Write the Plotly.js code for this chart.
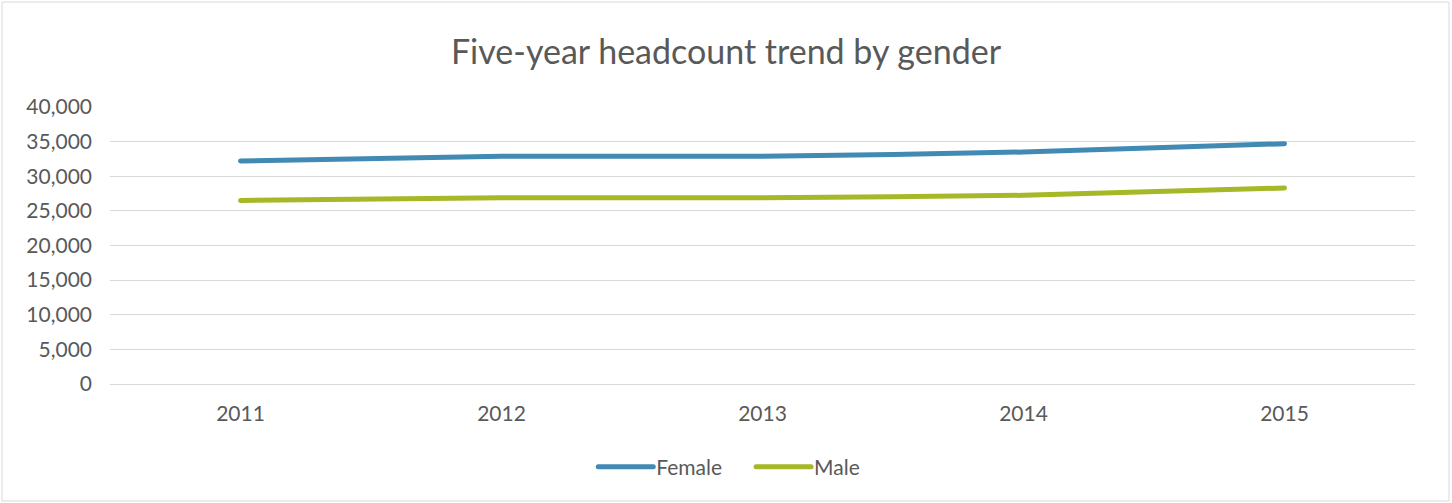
<!DOCTYPE html>
<html>
<head>
<meta charset="utf-8">
<script src="https://cdn.plot.ly/plotly-3.0.1.min.js"></script>
<style>
html,body{margin:0;padding:0;background:#fff;}
#chart{width:1452px;height:503px;}
</style>
</head>
<body>
<div id="chart"></div>
<script>
const years = ['2011', '2012', '2013', '2014', '2015'];
const female = [32200, 32900, 32900, 33500, 34700];
const male = [26500, 26900, 26900, 27250, 28300];
const yTicks = [0, 5000, 10000, 15000, 20000, 25000, 30000, 35000, 40000];

const W = 1452, H = 503;
const m = {l: 110, r: 37, t: 107, b: 119};
const pw = W - m.l - m.r, ph = H - m.t - m.b;

const font = "Lato, 'Open Sans', sans-serif";
const tickSize = 21;
const traces = [
  {x: years, y: female, name: 'Female', type: 'scatter', mode: 'lines',
   line: {color: '#418AB3', width: 5, shape: 'spline', smoothing: 0.6}},
  {x: years, y: male, name: 'Male', type: 'scatter', mode: 'lines',
   line: {color: '#A6B727', width: 5, shape: 'spline', smoothing: 0.6}}
];

const layout = {
  width: W, height: H,
  margin: m,
  paper_bgcolor: '#ffffff', plot_bgcolor: '#ffffff',
  font: {family: font, size: tickSize, color: '#595959'},
  title: {text: 'Five-year headcount trend by gender', x: 0.5, xref: 'container', xanchor: 'center',
          y: 1 - 52 / H, yref: 'container', yanchor: 'middle',
          font: {family: font, size: 34, weight: 400, color: '#595959'}},
  showlegend: true,
  legend: {orientation: 'h', x: 0.5, xanchor: 'center', xref: 'container', y: 1 - 467 / H, yref: 'container', yanchor: 'middle',
           font: {family: font, size: tickSize, color: '#595959'}, itemwidth: 30, tracegroupgap: 0},
  xaxis: {type: 'category', range: [-0.5, 4.5], showgrid: false, showline: true, linecolor: '#d9d9d9', linewidth: 1,
          ticks: '', tickfont: {family: font, size: tickSize, color: '#595959'}, ticklabelstandoff: 11, zeroline: false, fixedrange: true},
  yaxis: {range: [0, 40000], tickvals: yTicks, tickformat: ',d', showgrid: true, gridcolor: '#d9d9d9', gridwidth: 1,
          zeroline: false, showline: false, ticks: '', ticklabelstandoff: 17,
          tickfont: {family: font, size: tickSize, color: '#595959'}, fixedrange: true},
  shapes: [{type: 'rect', xref: 'paper', yref: 'paper',
            x0: (2 - m.l) / pw, x1: (W - 3 - m.l) / pw,
            y0: -(m.b - 2) / ph, y1: 1 + (m.t - 2) / ph,
            line: {color: '#d9d9d9', width: 1}, fillcolor: 'rgba(0,0,0,0)', layer: 'below'}]
};

Plotly.newPlot('chart', traces, layout, {displayModeBar: false, staticPlot: true}).then(function (gd) {
  // Longer legend keys, Excel style
  const LINE = 55, GAP = 3, ITEMGAP = 34;
  const sb = gd.querySelector('.legend .scrollbox');
  if (sb) sb.removeAttribute('clip-path');
  const items = Array.from(gd.querySelectorAll('.legend .traces'));
  const texts = items.map(g => g.querySelector('text.legendtext'));
  const widths = texts.map(t => t.getBoundingClientRect().width);
  let total = widths.reduce((a, w) => a + LINE + GAP + w, 0) + ITEMGAP * (items.length - 1);
  let start = W / 2 + 3 - total / 2;
  items.forEach((g, i) => {
    const p = g.querySelector('.legendlines path');
    if (p) { p.setAttribute('d', 'M' + (40 - GAP - LINE) + ',0h' + LINE); p.style.strokeLinecap = 'round'; }
    const desired = start + LINE + GAP;
    const cur = texts[i].getBoundingClientRect().left;
    const tr = (g.getAttribute('transform') || '').match(/translate\(([-\d.e]+)[ ,]*([-\d.e]*)\)/);
    const tx = tr ? parseFloat(tr[1]) : 0, ty = tr && tr[2] ? parseFloat(tr[2]) : 0;
    g.setAttribute('transform', 'translate(' + (tx + desired - cur) + ',' + ty + ')');
    start += LINE + GAP + widths[i] + ITEMGAP;
  });
  gd.querySelectorAll('.scatterlayer .trace path.js-line').forEach(p => {
    p.style.strokeLinecap = 'round'; p.style.strokeLinejoin = 'round';
  });
});
</script>
</body>
</html>
